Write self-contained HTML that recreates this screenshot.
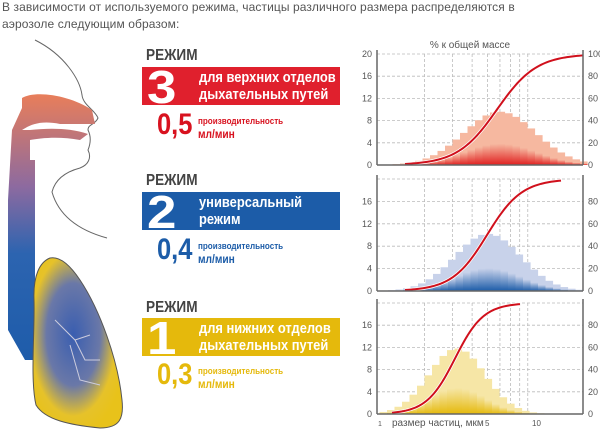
<!DOCTYPE html>
<html><head><meta charset="utf-8"><style>
body{margin:0;width:600px;height:430px;background:#fff;overflow:hidden;position:relative;font-family:"Liberation Sans",sans-serif}
.t{position:absolute;left:2px;font-size:12px;color:#555;letter-spacing:0.1px}
.rz{position:absolute;left:146px;font-weight:bold;font-size:16px;color:#444;transform:scaleX(0.85);transform-origin:left}
.box{position:absolute;left:142px;width:198px;height:38px;color:#fff}
.num{position:absolute;left:5px;top:-3px;font-weight:bold;font-size:46px;line-height:46px;transform:scaleX(1.15);transform-origin:left}
.bt{position:absolute;left:57px;top:2px;font-weight:bold;font-size:15px;line-height:17px;transform:scaleX(0.86);transform-origin:left;white-space:nowrap}
.pv{position:absolute;font-weight:bold;font-size:30px;transform:scaleX(0.85);transform-origin:left}
.pl{position:absolute;font-weight:bold;font-size:9.5px;line-height:13px;transform:scaleX(0.85);transform-origin:left;white-space:nowrap}
.pl b{font-size:12px}
</style></head><body>
<div class="t" style="top:0px">В зависимости от используемого режима, частицы различного размера распределяются в</div>
<div class="t" style="top:17px">аэрозоле следующим образом:</div>

<svg style="position:absolute;left:0;top:0" width="140" height="430">
<defs>
<linearGradient id="air" x1="0" y1="0" x2="0" y2="1"><stop offset="0" stop-color="#e87e5a"/><stop offset="0.35" stop-color="#8c6aa0"/><stop offset="0.6" stop-color="#2c64b0"/><stop offset="1" stop-color="#1e5caa"/></linearGradient>
<radialGradient id="lg" cx="0.45" cy="0.45" r="0.6"><stop offset="0" stop-color="#3a5eb0"/><stop offset="0.5" stop-color="#6a78a8"/><stop offset="0.8" stop-color="#e6c22a"/><stop offset="1" stop-color="#e8c21a"/></radialGradient>
</defs>
<path d="M35,40 C65,55 80,80 82,95 C83,105 95,110 98,118 C95,125 88,124 88,130 C92,138 90,145 88,150 C92,158 88,165 80,168 C65,172 55,180 52,192 C60,220 85,232 107,238" fill="none" stroke="#666" stroke-width="1"/>
<path d="M35,160 L35,345 L55,360 L25,360 L8,330 L8,200 L12,130 L22,108 L22,98 C35,90 70,95 92,110 L95,124 L60,124 C40,120 30,125 22,130 L30,130 C50,128 70,128 88,134 L80,140 C60,136 40,138 30,140 L30,160 Z" fill="url(#air)"/>
<path d="M50,258 C40,262 33,275 34,300 C35,330 30,380 36,405 C45,420 70,425 100,428 C120,428 124,418 122,400 C118,360 100,310 80,280 C70,265 60,256 50,258 Z" fill="url(#lg)" stroke="#555" stroke-width="1"/>
<path d="M55,320 L75,340 L90,335 M75,340 L85,360 L100,360 M70,345 L80,380 L100,385" fill="none" stroke="#ccd" stroke-width="1"/>
</svg>

<div class="rz" style="top:47px">РЕЖИМ</div>
<div class="box" style="top:67px;background:#e0202d"><div class="num">3</div><div class="bt">для верхних отделов<br>дыхательных путей</div></div>
<div class="pv" style="left:157px;top:108px;color:#d8121f">0,5</div>
<div class="pl" style="left:198px;top:115px;color:#d8121f">производительность<br><b>мл/мин</b></div>

<div class="rz" style="top:172px">РЕЖИМ</div>
<div class="box" style="top:192px;background:#1c5ca8"><div class="num">2</div><div class="bt">универсальный<br>режим</div></div>
<div class="pv" style="left:157px;top:233px;color:#1c5ca8">0,4</div>
<div class="pl" style="left:198px;top:240px;color:#1c5ca8">производительность<br><b>мл/мин</b></div>

<div class="rz" style="top:299px">РЕЖИМ</div>
<div class="box" style="top:318px;background:#e5b90c"><div class="num">1</div><div class="bt">для нижних отделов<br>дыхательных путей</div></div>
<div class="pv" style="left:157px;top:358px;color:#e5b90c">0,3</div>
<div class="pl" style="left:198px;top:365px;color:#e5b90c">производительность<br><b>мл/мин</b></div>

<svg id="ch" style="position:absolute;left:0;top:0" width="600" height="430" font-family="Liberation Sans" font-size="9" fill="#555"></svg>
<script>
var s='';
var grid=[2,3,4,5,6,7,8,9].map(function(v){return 377+158*Math.log10(v)});
var charts=[
 {top:54,bot:165,c:500,sg:36,pk:9.6,col:'#e02020',lt:'#f6b8a0',cx0:405,cx1:583,mid:497,lab:[20,16,12,8,4,0],rl:[100,80,60,40,20,0]},
 {top:179,bot:291,c:488,sg:33,pk:10.2,col:'#1c5ca8',lt:'#c8d2ea',cx0:405,cx1:562,mid:487,lab:[16,12,8,4,0],rl:[80,60,40,20,0]},
 {top:303,bot:414,c:457,sg:28,pk:11.8,col:'#e5b90c',lt:'#f6e6a6',cx0:392,cx1:520,mid:455,lab:[16,12,8,4,0],rl:[80,60,40,20,0]}];
charts.forEach(function(ch,i){
 var u=(ch.bot-ch.top)/20;
 s+='<defs><linearGradient id="g'+i+'" x1="0" y1="1" x2="0" y2="0"><stop offset="0" stop-color="'+ch.col+'"/><stop offset="0.4" stop-color="'+ch.lt+'"/><stop offset="1" stop-color="'+ch.lt+'"/></linearGradient></defs>';
 for(var k=0;k<=5;k++){var y=ch.bot-k*4*u;s+='<line x1="377" x2="583" y1="'+y+'" y2="'+y+'" stroke="#bbb" stroke-dasharray="3,2" stroke-width="0.8"/>';}
 grid.forEach(function(x){s+='<line x1="'+x+'" x2="'+x+'" y1="'+ch.top+'" y2="'+ch.bot+'" stroke="#bbb" stroke-dasharray="3,2" stroke-width="0.8"/>';});
 for(var x=ch.c-130;x<ch.c+130;x+=7.5){var h=ch.pk*Math.exp(-Math.pow((x+3.75-ch.c)/ch.sg,2)/2)*u;if(h<0.5||x<378||x>580)continue;s+='<rect x="'+x+'" y="'+(ch.bot-h)+'" width="7.6" height="'+h+'" fill="url(#g'+i+')"/>';}
 var p='';for(var x=ch.cx0;x<=ch.cx1;x+=2){var f=1/(1+Math.exp(-(x-ch.mid)/((ch.cx1-ch.cx0)/9)));p+=(p?'L':'M')+x+','+(ch.bot-f*(ch.bot-ch.top));}
 s+='<path d="'+p+'" fill="none" stroke="#fff" stroke-width="3.5"/><path d="'+p+'" fill="none" stroke="#d0101c" stroke-width="2"/>';
 s+='<line x1="377" x2="377" y1="'+(ch.top-4)+'" y2="'+ch.bot+'" stroke="#666" stroke-width="1.5"/><line x1="583" x2="583" y1="'+(ch.top-4)+'" y2="'+ch.bot+'" stroke="#666" stroke-width="1.5"/><line x1="377" x2="583" y1="'+ch.bot+'" y2="'+ch.bot+'" stroke="#666" stroke-width="1.5"/>';
 ch.lab.forEach(function(v,j){var y=ch.bot-v*u+3;s+='<text x="372" y="'+y+'" text-anchor="end">'+v+'</text><text x="588" y="'+y+'">'+ch.rl[j]+'</text>';});
});
s+='<text x="470" y="48" text-anchor="middle" font-size="10">% к общей массе</text>';
s+='<text x="378" y="426" font-size="7">1</text><text x="392" y="426" font-size="10">размер частиц, мкм</text><text x="485" y="426" font-size="8">5</text><text x="532" y="426" font-size="8">10</text>';
document.getElementById('ch').innerHTML=s;
</script>
</body></html>
